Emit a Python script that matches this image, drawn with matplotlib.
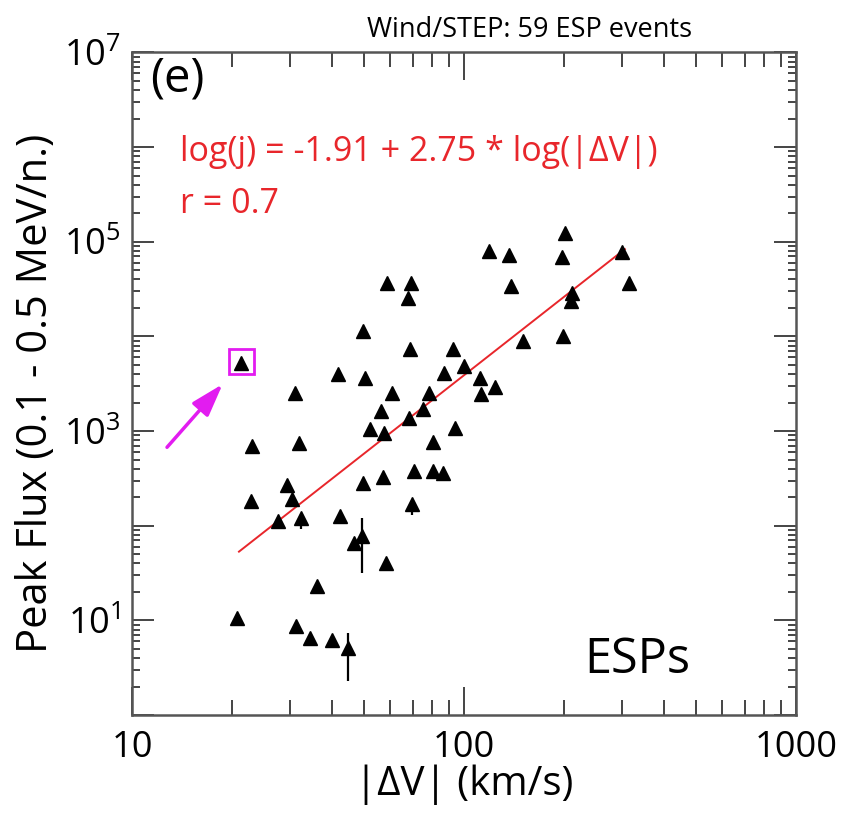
import numpy as np
import matplotlib
matplotlib.use("Agg")
import matplotlib.pyplot as plt
from matplotlib.ticker import FixedLocator, FuncFormatter

plt.rcParams['font.family'] = ['Open Sans', 'DejaVu Sans']
plt.rcParams['mathtext.fontset'] = 'custom'
plt.rcParams['mathtext.rm'] = 'Open Sans'
plt.rcParams['mathtext.it'] = 'Open Sans:italic'

# |dV| (km/s) and peak flux for the 58 visible ESP events
dv = [21.3, 23.0, 31.8, 31.0, 22.8, 29.3, 30.3, 27.5, 32.3, 20.7,
      31.2, 34.4, 40.0, 44.7, 36.1, 42.4, 49.3, 46.7, 58.2, 49.7,
      57.0, 69.7, 70.6, 80.7, 86.4, 80.7, 52.1, 57.4, 68.2, 56.2,
      75.4, 60.7, 78.5, 41.7, 50.4, 49.7, 68.7, 92.7, 87.1, 100.0,
      94.0, 111.7, 112.5, 123.9, 58.6, 69.2, 67.8, 118.9, 136.7, 138.7,
      201.5, 197.3, 299.0, 314.0, 211.5, 210.0, 150.7, 198.6]
flux = [5200, 690, 743, 2506, 181, 268, 190, 112, 120, 10.5,
        8.7, 6.5, 6.2, 5.1, 23, 126, 77, 65, 40, 281,
        325, 169, 376, 376, 358, 762, 1045, 948, 1365, 1618,
        1700, 2506, 2506, 3981, 3614, 11320, 7311, 7311, 4074, 4830,
        1072, 3614, 2449, 2903, 36390, 36390, 25230, 79250, 71800, 33800,
        122800, 68400, 77200, 36390, 28500, 23500, 8870, 10020]

# vertical bars drawn through some events
bar_dv = [32.3, 49.3, 44.7, 69.7]
bar_lo = [92, 31.5, 2.28, 129]
bar_hi = [120, 120, 7.3, 169]

# fit: log(j) = -1.91 + 2.75 * log(|dV|)
fit_a, fit_b = -1.91, 2.75
fit_range = [21, 305]

highlight = 0  # boxed event

fig = plt.figure(figsize=(8.46, 8.13), dpi=100)
ax = fig.add_axes([0.156, 0.1205, 0.785, 0.815])
ax.set_xscale('log')
ax.set_yscale('log')
ax.set_xlim(10, 1000)
ax.set_ylim(1, 1e7)

fx = np.array(fit_range, dtype=float)
ax.plot(fx, 10 ** (fit_a + fit_b * np.log10(fx)), color='#e8262b', lw=1.4, zorder=2)

ax.vlines(bar_dv, bar_lo, bar_hi, color='black', lw=1.6, zorder=3)
ax.plot(dv, flux, linestyle='none', marker='^', ms=10.5, color='black', zorder=4)

mag = '#e21cf0'
ax.plot(dv[highlight], flux[highlight] * 1.06, marker='s', ms=18, mfc='none',
        mec=mag, mew=2, zorder=5)
ax.annotate('', xy=(dv[highlight], flux[highlight]), xytext=(-74, -84),
            textcoords='offset pixels',
            arrowprops=dict(arrowstyle='-|>,head_length=1.0,head_width=0.32',
                            color=mag, lw=2.5, shrinkA=0, shrinkB=20,
                            mutation_scale=20))

# ticks
ax.xaxis.set_major_locator(FixedLocator([10, 100, 1000]))
ax.xaxis.set_minor_locator(FixedLocator([m * d for d in (10, 100) for m in range(2, 10)]))
ax.xaxis.set_major_formatter(FuncFormatter(lambda v, p: '%d' % v))
ax.yaxis.set_major_locator(FixedLocator([10.0 ** k for k in range(0, 8)]))
ax.yaxis.set_minor_locator(FixedLocator([m * 10.0 ** k for k in range(0, 7) for m in range(2, 10)]))
ax.yaxis.set_major_formatter(FuncFormatter(
    lambda v, p: r'$10^{%d}$' % round(np.log10(v)) if round(np.log10(v)) % 2 == 1 else ''))

ax.tick_params(which='both', direction='in', top=True, right=True, colors='#444444',
               labelcolor='black', width=1.4)
ax.tick_params(axis='x', which='major', length=20, labelsize=26, pad=11)
ax.tick_params(axis='x', which='minor', length=11)
ax.tick_params(axis='y', which='major', length=16, labelsize=26, pad=8)
ax.tick_params(axis='y', which='minor', length=6)
for s in ax.spines.values():
    s.set_linewidth(1.8)
    s.set_color('#555555')

ax.set_xlabel('|ΔV| (km/s)', fontsize=29, labelpad=-1)
ax.set_ylabel('Peak Flux (0.1 - 0.5 MeV/n.)', fontsize=30)
ax.yaxis.set_label_coords(-0.113, 0.485)

ax.text(0.028, 0.96, '(e)', transform=ax.transAxes, fontsize=34, va='center', ha='left')
ax.text(0.072, 0.849, 'log(j) = %.2f + %.2f * log(|ΔV|)' % (fit_a, fit_b),
        transform=ax.transAxes, fontsize=24.5, color='#e8262b', va='center', ha='left')
ax.text(0.072, 0.772, 'r = 0.7', transform=ax.transAxes, fontsize=24.5,
        color='#e8262b', va='center', ha='left')
ax.text(0.761, 0.083, 'ESPs', transform=ax.transAxes, fontsize=35, va='center', ha='center')

fig.text(0.626, 0.963, 'Wind/STEP: 59 ESP events', fontsize=19.5, ha='center', va='center')

fig.savefig('out.png', dpi=100)
